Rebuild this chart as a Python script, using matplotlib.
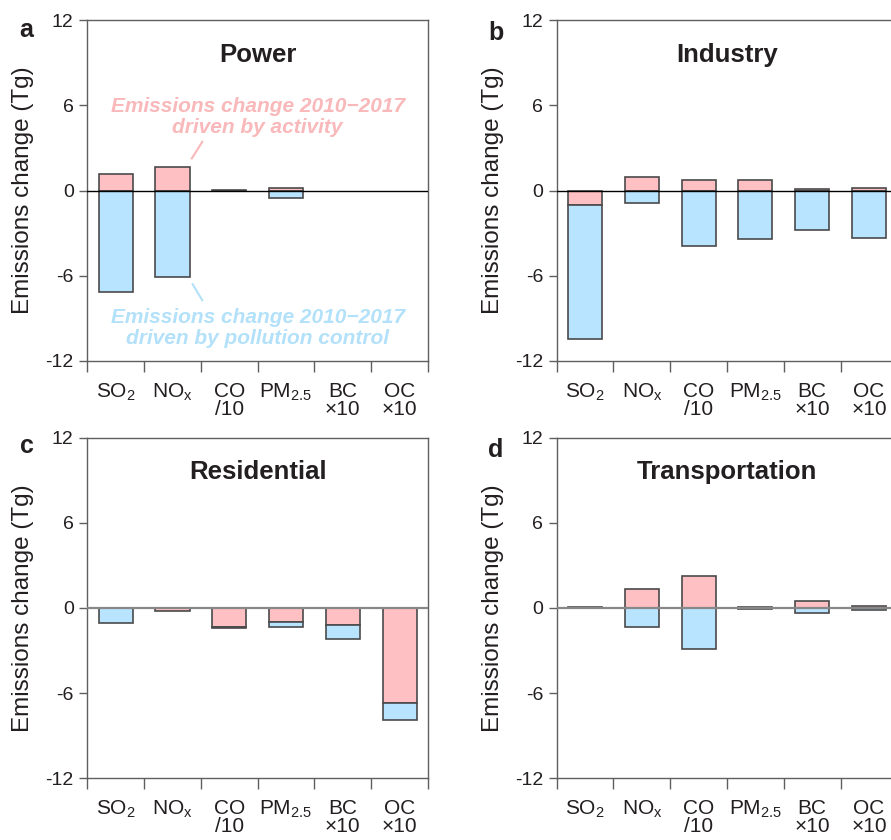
import matplotlib
matplotlib.use("Agg")
import matplotlib.pyplot as plt
import numpy as np

plt.rcParams['font.family'] = ['Liberation Sans', 'DejaVu Sans']
plt.rcParams['mathtext.fontset'] = 'custom'
plt.rcParams['mathtext.rm'] = 'Liberation Sans'
plt.rcParams['mathtext.it'] = 'Liberation Sans:italic'
plt.rcParams['mathtext.bf'] = 'Liberation Sans:bold'

# ---- data ----
species = ["SO$_{\\mathrm{2}}$", "NO$_{\\mathrm{x}}$", "CO\n/10", "PM$_{\\mathrm{2.5}}$", "BC\n×10", "OC\n×10"]
sectors = ["Power", "Industry", "Residential", "Transportation"]
letters = ["a", "b", "c", "d"]

power_activity = [1.19, 1.68, 0.06, 0.20, 0.0, 0.0]
power_control = [-7.13, -6.10, -0.03, -0.50, 0.0, 0.0]

industry_activity = [-0.99, 0.92, 0.73, 0.73, 0.12, 0.21]
industry_control = [-9.49, -0.85, -3.88, -3.41, -2.82, -3.38]

residential_activity = [0.0, -0.21, -1.36, -0.96, -1.17, -6.69]
residential_control = [-1.03, 0.0, -0.07, -0.36, -0.99, -1.18]

transport_activity = [0.04, 1.34, 2.23, 0.10, 0.47, 0.14]
transport_control = [-0.03, -1.32, -2.91, -0.10, -0.33, -0.14]

activity = [power_activity, industry_activity, residential_activity, transport_activity]
control = [power_control, industry_control, residential_control, transport_control]

yticks = [-12, -6, 0, 6, 12]

# ---- style ----
RED = '#FFC0C3'
BLUE = '#B8E4FF'
RED_TXT = '#F9B8BA'
BLUE_TXT = '#B3E1FA'
EDGE = '#4a4a4a'
SPINE = '#5f5f5f'
TXT = '#231F20'

W, H = 891, 840
fig = plt.figure(figsize=(W / 100, H / 100), dpi=100)

def px_rect(x0, y_top, x1, y_bot):
    return [x0 / W, 1 - y_bot / H, (x1 - x0) / W, (y_bot - y_top) / H]

rects = [
    px_rect(87.3, 20.3, 428.0, 360.7),
    px_rect(556.7, 20.3, 897.4, 360.7),
    px_rect(87.3, 437.7, 428.0, 778.3),
    px_rect(556.7, 437.7, 897.4, 778.3),
]
letter_pos = [(-0.178, 0.952), (-0.178, 0.942), (-0.178, 0.954), (-0.178, 0.944)]
zero_style = [('#000000', 1.0), ('#000000', 1.0), ('#888888', 1.6), ('#888888', 1.6)]

x = np.arange(len(species)) + 0.5
for i, r in enumerate(rects):
    ax = fig.add_axes(r)
    act = np.array(activity[i])
    ctl = np.array(control[i])
    same = np.sign(act) == np.sign(ctl)
    blue_bottom = np.where(same, act, 0.0)
    red_edges = [EDGE if v != 0 else 'none' for v in act]
    blue_edges = [EDGE if v != 0 else 'none' for v in ctl]
    ax.bar(x, act, width=0.6, color=RED, edgecolor=red_edges, linewidth=1.2, zorder=2)
    ax.bar(x, ctl, bottom=blue_bottom, width=0.6, color=BLUE, edgecolor=blue_edges, linewidth=1.2, zorder=2)
    zc, zl = zero_style[i]
    ax.axhline(0, color=zc, lw=zl, zorder=3)

    ax.set_xlim(0, 6)
    ax.set_ylim(-12, 12)
    ax.set_yticks(yticks)
    ax.set_yticklabels([str(v) for v in yticks])
    ax.set_xticks(x)
    ax.set_xticklabels(species, linespacing=0.95)
    ax.set_xticks(np.arange(0, 7), minor=True)
    ax.tick_params(axis='x', which='major', length=0, pad=15, labelsize=15, colors=TXT)
    ax.tick_params(axis='x', which='minor', length=8, width=1.0, color=SPINE, direction='out')
    ax.tick_params(axis='y', length=5.8, width=1.0, color=SPINE, pad=4, labelsize=14, labelcolor=TXT)
    for s in ax.spines.values():
        s.set_color(SPINE)
        s.set_linewidth(1.0)

    ax.text(-0.188, 0.5, "Emissions change (Tg)", transform=ax.transAxes, rotation=90,
            ha='center', va='center', fontsize=17.5, color=TXT)
    ax.text(0.5, 0.878, sectors[i], transform=ax.transAxes, ha='center', va='baseline',
            fontsize=18.5, fontweight='bold', color=TXT)
    lx, ly = letter_pos[i]
    ax.text(lx, ly, letters[i], transform=ax.transAxes, ha='center', va='baseline',
            fontsize=18, fontweight='bold', color=TXT)

    if i == 0:
        ax.text(3.0, 5.2, "Emissions change 2010\u22122017\ndriven by activity",
                ha='center', va='center', fontsize=15, fontweight='bold', style='italic',
                color=RED_TXT, linespacing=1.15)
        ax.text(3.0, -9.72, "Emissions change 2010\u22122017\ndriven by pollution control",
                ha='center', va='center', fontsize=15, fontweight='bold', style='italic',
                color=BLUE_TXT, linespacing=1.15)
        ax.plot([1.84, 2.025], [2.26, 3.43], color=RED_TXT, lw=1.5, zorder=4)
        ax.plot([1.856, 2.025], [-6.61, -7.74], color=BLUE_TXT, lw=1.5, zorder=4)

fig.savefig("out.png", dpi=100)
